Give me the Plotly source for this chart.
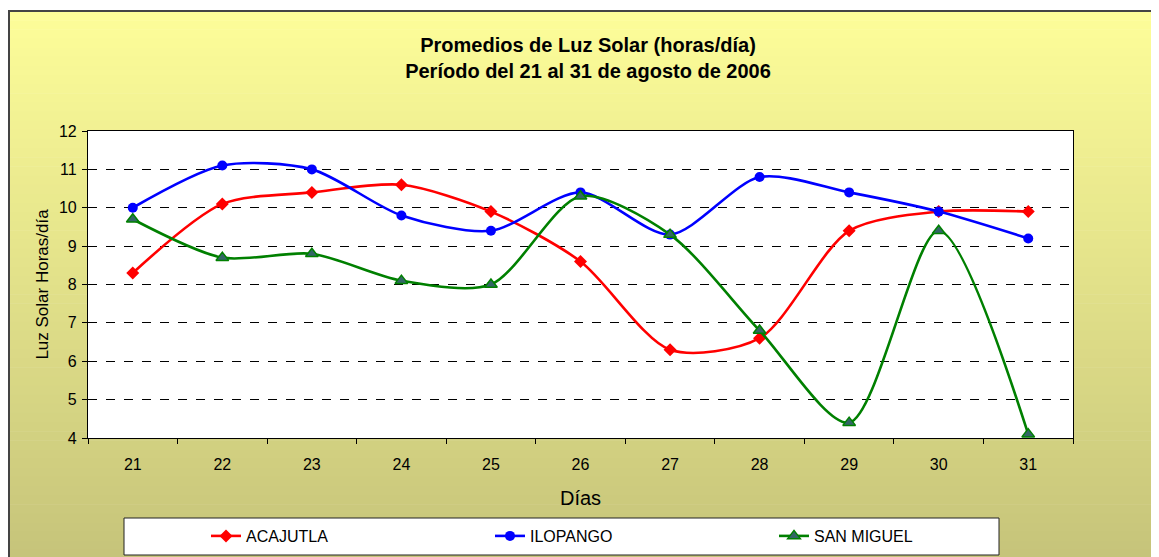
import plotly.graph_objects as go

dias = ["21", "22", "23", "24", "25", "26", "27", "28", "29", "30", "31"]
acajutla = [8.3, 10.1, 10.4, 10.6, 9.9, 8.6, 6.3, 6.6, 9.4, 9.9, 9.9]
ilopango = [10.0, 11.1, 11.0, 9.8, 9.4, 10.4, 9.3, 10.8, 10.4, 9.9, 9.2]
san_miguel = [9.7, 8.7, 8.8, 8.1, 8.0, 10.3, 9.3, 6.8, 4.4, 9.4, 4.1]
y_ticks = [4, 5, 6, 7, 8, 9, 10, 11, 12]

# page body has an 8px margin; figure laid out in reference pixel coords shifted by OFF
OFF = 8
SW, SH = 1159, 557
W, H = SW - OFF, SH - OFF
L, R, T, B = 88, 1073, 131, 438  # plot area in reference screen coords

def px(x):
    return (x - L) / (R - L)

def py(y):
    return (B - y) / (B - T)

FONT = "Liberation Sans, Arial, sans-serif"

fig = go.Figure()
fig.add_trace(go.Scatter(x=dias, y=acajutla, name="ACAJUTLA", mode="lines+markers",
                         line=dict(color="#FF0000", width=2.6, shape="spline", smoothing=0.8),
                         marker=dict(symbol="diamond", size=10, color="#FF0000")))
fig.add_trace(go.Scatter(x=dias, y=ilopango, name="ILOPANGO", mode="lines+markers",
                         line=dict(color="#0000FF", width=2.6, shape="spline", smoothing=0.8),
                         marker=dict(symbol="circle", size=10, color="#0000FF")))
fig.add_trace(go.Scatter(x=dias, y=san_miguel, name="SAN MIGUEL", mode="lines+markers",
                         line=dict(color="#008000", width=2.6, shape="spline", smoothing=0.8),
                         marker=dict(symbol="triangle-up", size=11, color="#336666",
                                     line=dict(color="#008000", width=1.5))))

# gradient background bands
top_c = (253, 253, 153)
bot_c = (198, 196, 122)
shapes = []
y0p, y1p = 11, SH + 2
n = 60
for i in range(n):
    a = y0p + (y1p - y0p) * i / n
    b = y0p + (y1p - y0p) * (i + 1) / n
    t = (i + 0.5) / n
    c = tuple(int(round(top_c[k] + (bot_c[k] - top_c[k]) * t)) for k in range(3))
    shapes.append(dict(type="rect", xref="paper", yref="paper", layer="below",
                       x0=px(5), x1=px(SW + 5), y0=py(a), y1=py(b + 0.6),
                       fillcolor="rgb(%d,%d,%d)" % c, line=dict(width=0)))
# outer border
shapes.append(dict(type="rect", xref="paper", yref="paper", layer="below",
                   x0=px(9), x1=px(SW + 5), y0=py(11), y1=py(SH + 5),
                   fillcolor="rgba(0,0,0,0)", line=dict(color="#444444", width=2)))
# plot area white
shapes.append(dict(type="rect", xref="paper", yref="paper", layer="below",
                   x0=0, x1=1, y0=0, y1=1, fillcolor="white", line=dict(width=0)))
# legend box
shapes.append(dict(type="rect", xref="paper", yref="paper", layer="below",
                   x0=px(124), x1=px(999), y0=py(518), y1=py(555),
                   fillcolor="white", line=dict(color="#222222", width=1)))

fig.update_layout(
    width=W, height=H,
    margin=dict(l=L - OFF, r=W - (R - OFF), t=T - OFF, b=H - (B - OFF), autoexpand=False),
    paper_bgcolor="white",
    plot_bgcolor="white",
    font=dict(family=FONT, color="black", size=15),
    title=dict(text="<b>Promedios de Luz Solar (horas/día)<br>Período del 21 al 31 de agosto de 2006</b>",
               x=(588 - OFF) / W, xanchor="center", xref="container",
               y=1 - (52 - OFF) / H, yanchor="middle", yref="container",
               font=dict(family=FONT, size=20, color="black")),
    shapes=shapes,
    showlegend=True,
    legend=dict(orientation="h", x=px(206), xanchor="left", y=py(536), yanchor="middle",
                bgcolor="rgba(0,0,0,0)", borderwidth=0, entrywidth=239,
                font=dict(family=FONT, size=16, color="black"), itemclick=False),
    xaxis=dict(type="category", range=[-0.5, 10.5], tickson="boundaries",
               ticks="outside", ticklen=5, tickcolor="black", tickwidth=1,
               showline=True, linecolor="black", linewidth=1.2, mirror=True,
               showgrid=False, tickfont=dict(size=16), ticklabelstandoff=12,
               title=dict(text="Días", font=dict(size=20), standoff=18)),
    yaxis=dict(range=[4, 12], tickvals=y_ticks, ticks="outside", ticklen=5, tickcolor="black",
               showline=True, linecolor="black", linewidth=1.2, mirror=True,
               showgrid=True, gridcolor="black", griddash="dash", gridwidth=1,
               zeroline=False, tickfont=dict(size=16), ticklabelstandoff=2,
               title=dict(text="Luz Solar Horas/día", font=dict(size=17), standoff=5)),
)

fig.write_html("out.html")
